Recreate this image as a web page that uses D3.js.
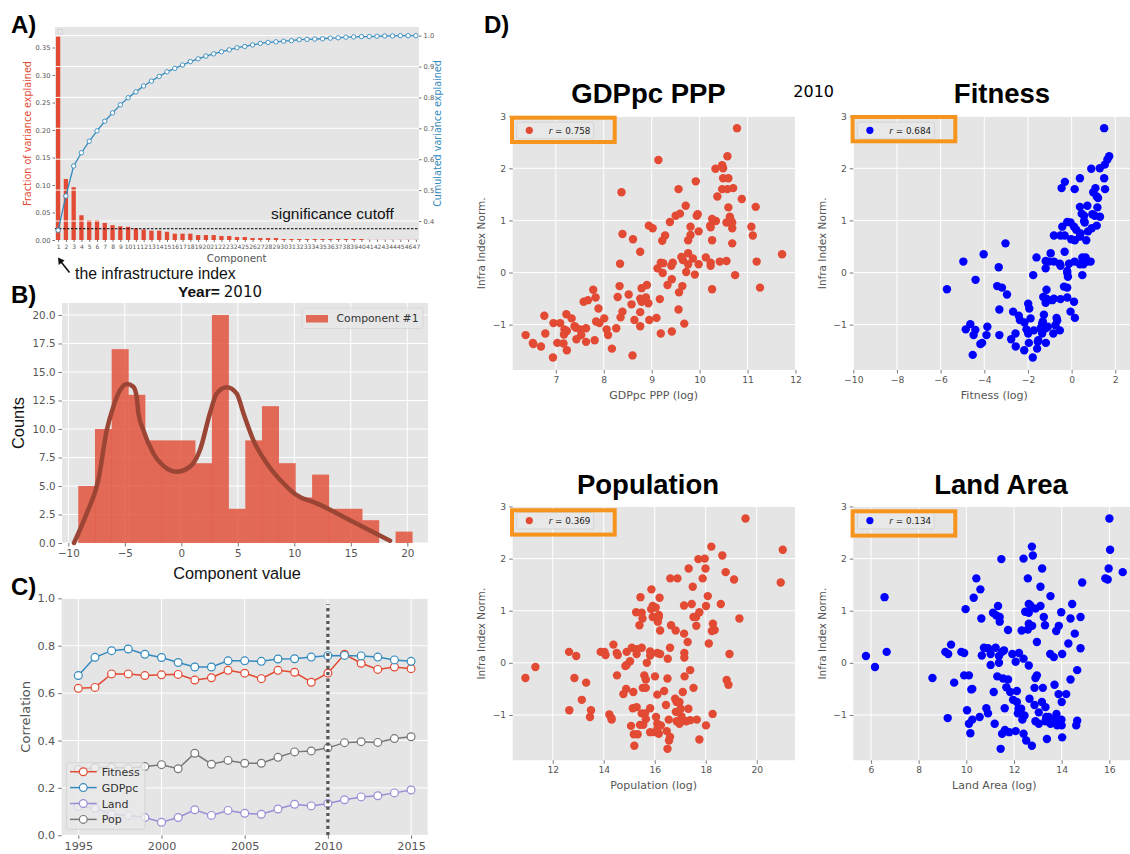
<!DOCTYPE html>
<html>
<head>
<meta charset="utf-8">
<script src="https://cdn.jsdelivr.net/npm/d3@7"></script>
<style>
body { margin: 0; background: #fff; }
svg { display: block; }
</style>
</head>
<body>
<svg id="fig" width="1130" height="854"></svg>
<script>
// ---- panel A: PCA variance ----
var components = d3.range(1, 48);
var varFrac = [0.370, 0.111, 0.096, 0.045, 0.036, 0.036, 0.031, 0.027, 0.025, 0.024,
               0.021, 0.019, 0.017, 0.017, 0.015, 0.0115, 0.0115, 0.0115, 0.009, 0.009,
               0.009, 0.0073, 0.0073, 0.0055, 0.0055, 0.0036, 0.0036, 0.0036, 0.0036, 0.0018,
               0.0018, 0.0018, 0.0018, 0.0018, 0.0018, 0.0018, 0.0018, 0.0018, 0.0018, 0.0018,
               0.0003, 0.0003, 0.0003, 0.0003, 0.0003, 0.0003, 0.0003];
var cumVar = [0.370, 0.481, 0.578, 0.621, 0.658, 0.692, 0.723, 0.750, 0.776, 0.799,
              0.818, 0.837, 0.853, 0.868, 0.883, 0.894, 0.905, 0.916, 0.925, 0.934,
              0.941, 0.948, 0.954, 0.961, 0.965, 0.970, 0.975, 0.978, 0.980, 0.982,
              0.984, 0.987, 0.988, 0.989, 0.990, 0.992, 0.993, 0.995, 0.996, 0.997,
              0.997, 0.998, 0.999, 0.999, 1.000, 1.000, 1.000];
var cutoff = 0.0205;
var fracTicks = [0, 0.05, 0.10, 0.15, 0.20, 0.25, 0.30, 0.35];
var cumTicks = [0.4, 0.5, 0.6, 0.7, 0.8, 0.9, 1.0];

// ---- panel B: histogram of component #1 ----
var histRange = [-9.12, 20.44];
var histCounts = [5, 10, 17, 13, 9, 9, 9, 7, 20, 3, 9, 12, 7, 4, 6, 3, 3, 2, 0, 1];
var kdeX = [-9.50, -8.37, -7.35, -6.60, -6.00, -5.42, -4.83, -4.25, -3.95, -3.80, -3.36, -2.48, -1.29, -0.41,
            0.77, 1.65, 2.54, 3.13, 4.02, 4.90, 5.49, 6.37, 7.56, 9.03, 10.20, 11.98, 14.93, 18.47];
var kdeY = [0, 2.6, 5.5, 9.9, 12.0, 13.4, 13.95, 13.7, 12.8, 11.4, 9.9, 7.87, 6.55, 6.25,
            6.7, 8.16, 11.4, 13.1, 13.65, 13.1, 11.4, 9.03, 7.0, 5.24, 4.2, 3.48, 2.0, 0.2];
var histXTicks = [-10, -5, 0, 5, 10, 15, 20];
var histYTicks = [0, 2.5, 5, 7.5, 10, 12.5, 15, 17.5, 20];

// ---- panel C: correlation over years ----
var years = d3.range(1995, 2016);
var fitnessCorr = [0.620, 0.624, 0.681, 0.681, 0.674, 0.677, 0.679, 0.655, 0.665, 0.696, 0.684,
                   0.661, 0.696, 0.688, 0.646, 0.684, 0.764, 0.726, 0.700, 0.710, 0.703];
var gdpCorr = [0.674, 0.751, 0.779, 0.786, 0.764, 0.750, 0.729, 0.710, 0.710, 0.736, 0.736,
               0.734, 0.744, 0.745, 0.752, 0.758, 0.759, 0.757, 0.752, 0.740, 0.734];
var landCorr = [0.121, 0.114, 0.089, 0.084, 0.075, 0.055, 0.075, 0.108, 0.084, 0.105, 0.093,
                0.089, 0.111, 0.131, 0.124, 0.134, 0.150, 0.162, 0.167, 0.179, 0.191];
var popCorr = [0.278, 0.285, 0.287, 0.283, 0.290, 0.298, 0.281, 0.346, 0.300, 0.316, 0.304,
               0.304, 0.329, 0.352, 0.356, 0.369, 0.391, 0.395, 0.392, 0.408, 0.416];
var corrNames = ["Fitness", "GDPpc", "Land", "Pop"];
var markYear = 2010;

// ---- panel D: scatter plots, 2010 ----
var gdpPts = [[10.78,2.77],[9.14,2.16],[10.58,2.23],[10.47,2.06],[10.33,1.99],[10.49,2.00],[8.37,1.54],[10.49,1.81],[10.60,1.81],[9.92,1.75],
  [9.56,1.60],[10.47,1.60],[10.58,1.60],[10.70,1.62],[10.88,1.41],[10.37,1.46],[9.71,1.28],[10.60,1.25],[11.17,1.26],[9.50,1.09],
  [9.59,1.13],[9.94,1.09],[9.96,1.12],[10.26,1.03],[10.34,0.99],[10.63,1.07],[10.64,1.03],[9.38,0.97],[10.56,0.96],[10.68,0.96],
  [10.22,0.90],[10.23,0.87],[8.94,0.90],[9.02,0.85],[9.81,0.88],[11.08,0.88],[10.68,0.85],[8.39,0.74],[9.28,0.71],[9.81,0.72],
  [11.11,0.71],[9.98,0.79],[8.61,0.64],[9.22,0.61],[9.76,0.62],[10.26,0.62],[10.68,0.56],[8.76,0.40],[9.76,0.37],[9.62,0.30],
  [10.13,0.29],[9.65,0.24],[9.86,0.27],[10.42,0.21],[10.56,0.22],[11.19,0.21],[11.72,0.35],[8.34,0.17],[9.19,0.19],[9.24,0.18],
  [9.44,0.19],[9.76,0.16],[10.23,0.19],[10.23,0.13],[9.98,0.16],[9.41,0.13],[9.12,0.08],[9.23,-0.01],[9.72,0.01],[9.90,-0.04],
  [10.74,-0.05],[8.33,-0.26],[9.42,-0.13],[9.33,-0.24],[8.90,-0.24],[8.52,-0.42],[9.64,-0.26],[11.26,-0.29],[10.26,-0.32],[7.78,-0.33],
  [8.79,-0.30],[9.57,-0.38],[8.29,-0.47],[7.83,-0.48],[7.67,-0.53],[7.58,-0.56],[8.76,-0.50],[8.88,-0.48],[8.79,-0.56],[9.17,-0.51],
  [8.58,-0.61],[8.93,-0.59],[7.89,-0.69],[9.56,-0.71],[8.39,-0.75],[8.76,-0.76],[6.76,-0.83],[7.22,-0.80],[7.33,-0.88],[8.01,-0.88],
  [8.35,-0.86],[9.10,-0.87],[8.64,-0.91],[8.95,-0.91],[6.95,-0.97],[7.09,-0.97],[7.84,-0.94],[7.91,-0.97],[9.68,-0.98],[7.39,-1.03],
  [7.42,-1.06],[7.63,-1.07],[7.51,-1.09],[7.18,-1.09],[7.23,-1.12],[8.06,-1.09],[8.26,-1.07],[8.76,-1.03],[7.19,-1.15],[7.17,-1.19],
  [6.78,-1.17],[7.53,-1.20],[8.09,-1.20],[9.19,-1.17],[9.42,-1.13],[6.37,-1.20],[7.43,-1.28],[7.63,-1.33],[7.81,-1.30],[6.52,-1.35],
  [6.53,-1.37],[7.03,-1.35],[7.16,-1.36],[6.69,-1.42],[7.23,-1.49],[8.17,-1.46],[6.94,-1.63],[8.60,-1.59]];

var fitPts = [[1.49,2.77],[1.72,2.23],[1.64,2.17],[1.52,2.07],[1.29,2.00],[0.90,1.99],[-0.31,1.74],[0.38,1.81],[1.49,1.81],[-0.46,1.62],
  [0.14,1.60],[1.53,1.60],[1.09,1.62],[0.99,1.54],[1.15,1.46],[1.21,1.43],[0.72,1.28],[0.38,1.26],[1.18,1.25],[0.46,1.13],
  [0.95,1.12],[1.06,1.09],[1.30,1.07],[0.57,1.09],[0.57,0.99],[0.60,0.96],[-0.20,0.97],[-0.05,0.96],[-0.43,0.88],[0.11,0.88],
  [0.21,0.82],[1.15,0.90],[0.92,0.85],[0.75,0.79],[0.41,0.75],[-0.81,0.71],[-0.51,0.71],[-0.32,0.71],[-0.02,0.64],[0.15,0.62],
  [0.67,0.62],[0.38,0.69],[-3.03,0.56],[-0.32,0.40],[-0.96,0.37],[-4.03,0.35],[-4.96,0.21],[-1.61,0.29],[-1.19,0.22],[-1.04,0.21],
  [-0.81,0.21],[-0.54,0.17],[-0.51,0.13],[-0.12,0.17],[0.14,0.21],[0.38,0.16],[0.49,0.29],[0.64,0.29],[0.72,0.21],[0.87,0.21],
  [0.54,0.16],[-1.19,0.08],[-3.34,0.10],[-0.20,0.03],[-0.20,-0.01],[-0.17,-0.08],[0.49,-0.05],[-1.76,-0.05],[-4.40,-0.14],[-5.71,-0.32],
  [-3.41,-0.26],[-3.19,-0.29],[-2.96,-0.42],[-0.20,-0.29],[-0.35,-0.27],[-1.15,-0.33],[-1.30,-0.47],[-1.15,-0.50],[-0.81,-0.50],[-0.51,-0.51],
  [-0.89,-0.53],[-0.20,-0.48],[0.11,-0.56],[-1.19,-0.58],[-1.99,-0.60],[-1.94,-0.69],[-3.31,-0.71],[-2.68,-0.75],[-0.05,-0.75],[-1.27,-0.81],
  [-2.42,-0.83],[0.15,-0.87],[-2.37,-0.91],[-1.88,-0.88],[-0.69,-0.87],[-0.66,-0.92],[-2.16,-0.96],[-1.32,-0.94],[-0.74,-1.01],[-4.64,-0.99],
  [-3.86,-1.04],[-1.35,-0.98],[-4.85,-1.09],[-4.41,-1.10],[-2.07,-1.09],[-1.73,-1.11],[-1.42,-1.07],[-1.19,-1.07],[-1.09,-1.04],[-0.54,-1.11],
  [-0.84,-1.17],[-1.99,-1.17],[-4.49,-1.20],[-3.90,-1.20],[-3.31,-1.20],[-2.57,-1.17],[-1.35,-1.17],[-1.53,-1.30],[-1.55,-1.33],[-1.96,-1.35],
  [-1.18,-1.35],[-2.77,-1.28],[-4.10,-1.35],[-4.18,-1.37],[-2.56,-1.42],[-1.58,-1.46],[-2.17,-1.49],[-4.53,-1.58],[-1.78,-1.63]];

var popPts = [[19.56,2.77],[21.02,2.17],[20.94,1.54],[18.22,2.23],[18.65,2.06],[17.71,1.99],[17.96,2.00],[17.33,1.81],[17.99,1.81],[18.78,1.74],
  [16.61,1.62],[16.89,1.62],[17.88,1.62],[19.11,1.60],[17.49,1.46],[15.87,1.41],[15.44,1.26],[16.19,1.25],[18.08,1.28],[17.15,1.10],
  [17.45,1.13],[18.01,1.09],[18.59,1.13],[15.27,0.97],[15.49,0.96],[15.92,1.09],[16.04,1.06],[15.86,1.03],[16.16,0.92],[16.16,0.88],
  [15.92,0.88],[16.12,0.79],[15.40,0.72],[15.52,0.85],[17.52,0.88],[17.62,0.88],[17.75,0.97],[17.63,0.71],[16.64,0.72],[16.82,0.62],
  [16.21,0.62],[18.24,0.61],[18.28,0.75],[18.35,0.63],[19.32,0.85],[17.15,0.56],[17.29,0.40],[18.12,0.37],[14.38,0.35],[12.64,0.21],
  [12.92,0.13],[13.88,0.21],[14.03,0.21],[14.07,0.15],[14.51,0.19],[14.55,0.15],[14.90,0.21],[15.10,0.29],[15.29,0.26],[15.29,0.17],
  [15.49,0.29],[15.82,0.22],[15.82,0.14],[16.10,0.19],[16.21,0.17],[16.60,0.29],[16.51,0.08],[17.16,0.19],[17.16,0.10],[18.93,0.17],
  [15.03,0.03],[14.90,-0.04],[14.85,-0.06],[15.69,0.00],[10.93,-0.29],[11.32,-0.08],[12.85,-0.29],[13.31,-0.38],[14.52,-0.24],[15.59,-0.24],
  [15.65,-0.32],[16.01,-0.26],[16.50,-0.30],[17.17,-0.26],[17.39,-0.14],[18.82,-0.33],[18.89,-0.42],[17.52,-0.48],[15.53,-0.48],[15.65,-0.48],
  [14.88,-0.50],[14.77,-0.60],[15.16,-0.56],[16.37,-0.54],[16.10,-0.61],[17.10,-0.56],[13.14,-0.71],[16.80,-0.69],[16.86,-0.75],[16.97,-0.75],
  [16.44,-0.81],[12.65,-0.91],[13.50,-0.91],[13.46,-1.04],[14.22,-0.99],[14.30,-1.06],[14.31,-1.09],[15.14,-0.87],[15.29,-0.85],[15.82,-0.87],
  [15.49,-0.97],[15.62,-0.97],[17.02,-0.88],[17.32,-0.88],[16.83,-0.94],[18.27,-0.98],[17.05,-1.03],[16.05,-1.04],[15.65,-1.08],[16.55,-1.09],
  [16.86,-1.12],[17.23,-1.12],[17.39,-1.10],[17.65,-1.09],[15.42,-1.19],[15.55,-1.19],[15.07,-1.21],[16.10,-1.17],[16.24,-1.20],[16.97,-1.17],
  [18.01,-1.20],[15.82,-1.33],[16.01,-1.33],[16.16,-1.36],[15.18,-1.37],[15.33,-1.37],[16.47,-1.31],[16.60,-1.42],[16.56,-1.49],[17.75,-1.47],
  [15.20,-1.59],[16.50,-1.65],[16.10,-1.27]];

var landPts = [[16.00,2.77],[16.03,2.17],[15.97,1.81],[15.83,1.62],[15.93,1.60],[16.56,1.74],[14.86,1.54],[12.75,2.23],[12.79,2.06],[12.40,2.00],
  [11.47,1.99],[13.18,1.81],[10.42,1.62],[12.58,1.62],[10.59,1.41],[13.11,1.46],[6.57,1.26],[10.31,1.25],[13.53,1.28],[11.33,1.09],
  [12.62,1.13],[12.69,1.10],[12.90,1.04],[13.11,1.09],[14.44,1.13],[9.97,1.03],[11.12,0.96],[11.26,0.91],[11.40,0.88],[12.47,0.98],
  [12.62,0.96],[13.98,0.97],[10.63,0.85],[11.40,0.79],[13.25,0.88],[14.37,0.85],[14.79,0.88],[12.62,0.75],[12.76,0.71],[13.30,0.72],
  [13.88,0.71],[12.58,0.64],[11.75,0.63],[12.32,0.62],[13.77,0.61],[14.55,0.56],[12.96,0.40],[14.28,0.37],[9.36,0.35],[5.79,0.13],
  [6.66,0.21],[6.17,-0.08],[9.12,0.21],[9.24,0.17],[9.79,0.21],[9.91,0.19],[10.74,0.29],[10.65,0.14],[10.91,0.28],[11.02,0.17],
  [11.23,0.29],[11.37,0.13],[11.50,0.21],[11.58,0.24],[11.93,0.17],[12.21,0.19],[12.07,0.02],[12.40,0.08],[14.02,0.17],[13.52,0.17],
  [13.67,0.11],[14.79,0.28],[11.02,-0.04],[11.37,0.00],[12.62,-0.05],[8.58,-0.29],[9.49,-0.38],[9.91,-0.24],[10.11,-0.24],[10.21,-0.51],
  [10.25,-0.50],[11.30,-0.26],[11.54,-0.30],[11.75,-0.32],[12.90,-0.29],[12.96,-0.24],[12.86,-0.48],[13.21,-0.48],[14.37,-0.32],[14.65,-0.14],
  [11.15,-0.56],[11.68,-0.47],[11.84,-0.56],[12.12,-0.54],[12.65,-0.69],[13.70,-0.42],[13.87,-0.60],[14.19,-0.60],[11.96,-0.71],[12.12,-0.75],
  [13.17,-0.75],[13.32,-0.85],[14.00,-0.75],[11.61,-0.87],[12.19,-0.88],[12.30,-0.88],[10.84,-0.87],[10.91,-0.97],[10.03,-0.91],[12.16,-0.97],
  [12.44,-1.01],[12.86,-0.81],[13.04,-0.95],[13.78,-0.98],[13.35,-1.04],[13.46,-1.04],[13.70,-1.09],[13.99,-1.09],[14.65,-1.11],[10.56,-1.04],
  [9.22,-1.06],[10.25,-1.09],[10.11,-1.17],[11.19,-1.17],[12.35,-1.09],[12.90,-1.12],[13.04,-1.17],[13.32,-1.12],[13.53,-1.17],[13.81,-1.20],
  [14.00,-1.20],[14.61,-1.20],[10.17,-1.35],[11.50,-1.36],[11.62,-1.29],[11.80,-1.33],[12.07,-1.31],[12.40,-1.36],[14.02,-1.43],[13.38,-1.46],
  [12.51,-1.49],[12.75,-1.59],[11.44,-1.65]];

var rValues = {gdp: "0.758", fit: "0.684", pop: "0.369", land: "0.134"};

// ---- drawing ----
var BG = "#E5E5E5", RED = "#E24A33", BLUE = "#348ABD", PURPLE = "#988ED5", GREY = "#777777";
var ORANGE = "#F7941D";
var DV = "DejaVu Sans, sans-serif";
var LS = "Liberation Sans, Arial, sans-serif";
var svg = d3.select("#fig");

function panelBg(x0, y0, x1, y1) {
    svg.append("rect").attr("x", x0).attr("y", y0)
        .attr("width", x1 - x0).attr("height", y1 - y0).attr("fill", BG);
}

function gridH(vals, ys, x0, x1) {
    svg.append("g").selectAll("line").data(vals).enter().append("line")
        .attr("x1", x0).attr("x2", x1)
        .attr("y1", function(d) { return ys(d); }).attr("y2", function(d) { return ys(d); })
        .attr("stroke", "#fff").attr("stroke-width", 1);
}

function gridV(vals, xs, y0, y1) {
    svg.append("g").selectAll("line").data(vals).enter().append("line")
        .attr("y1", y0).attr("y2", y1)
        .attr("x1", function(d) { return xs(d); }).attr("x2", function(d) { return xs(d); })
        .attr("stroke", "#fff").attr("stroke-width", 1);
}

function axis(gen, tx, ty, fs) {
    var g = svg.append("g").attr("transform", "translate(" + tx + "," + ty + ")").call(gen);
    g.select(".domain").remove();
    g.selectAll(".tick line").attr("stroke", "#555").attr("stroke-width", 0.8);
    g.selectAll(".tick text").attr("fill", "#555").attr("font-family", DV).attr("font-size", fs);
    return g;
}

function text(x, y, str, size, family, fill, anchor, weight) {
    return svg.append("text").attr("x", x).attr("y", y).text(str)
        .attr("font-size", size).attr("font-family", family)
        .attr("fill", fill || "#000").attr("text-anchor", anchor || "start")
        .attr("font-weight", weight || "normal");
}

function vtext(x, y, str, size, family, fill) {
    return svg.append("text").attr("transform", "translate(" + x + "," + y + ") rotate(-90)")
        .attr("text-anchor", "middle").attr("dy", "0.35em").text(str)
        .attr("font-size", size).attr("font-family", family).attr("fill", fill);
}

// ===== A =====
(function() {
    var x0 = 55, x1 = 419, y0 = 27, y1 = 240;
    var ax = d3.scaleLinear().domain([0.6, 47.4]).range([x0, x1]);
    var ayL = d3.scaleLinear().domain([0, 0.3873]).range([y1, y0]);
    var ayR = d3.scaleLinear().domain([0.3385, 1.028]).range([y1, y0]);
    panelBg(x0, y0, x1, y1);

    svg.append("g").selectAll("rect").data(varFrac).enter().append("rect")
        .attr("x", function(d, i) { return ax(components[i]) - 2.15; })
        .attr("width", 4.3)
        .attr("y", function(d) { return ayL(d); })
        .attr("height", function(d) { return y1 - ayL(d); })
        .attr("fill", RED);

    gridH(cumTicks, ayR, x0, x1);

    svg.append("line").attr("x1", x0).attr("x2", x1)
        .attr("y1", ayL(cutoff)).attr("y2", ayL(cutoff))
        .attr("stroke", "#000").attr("stroke-width", 1).attr("stroke-dasharray", "2.5,1.5");

    var line = d3.line()
        .x(function(d, i) { return ax(components[i]); })
        .y(function(d) { return ayR(d); });
    svg.append("path").datum(cumVar).attr("d", line)
        .attr("fill", "none").attr("stroke", BLUE).attr("stroke-width", 1.3);
    svg.append("g").selectAll("circle").data(cumVar).enter().append("circle")
        .attr("cx", function(d, i) { return ax(components[i]); })
        .attr("cy", function(d) { return ayR(d); })
        .attr("r", 2.2).attr("fill", "#fff").attr("stroke", BLUE).attr("stroke-width", 0.9);

    // empty legend box
    svg.append("rect").attr("x", 58).attr("y", 29.5).attr("width", 4.5).attr("height", 4.5)
        .attr("fill", "#e8e8e8").attr("stroke", "#c8c8c8").attr("stroke-width", 0.6);

    axis(d3.axisLeft(ayL).tickValues(fracTicks).tickFormat(d3.format(".2f")).tickSize(2.5).tickPadding(2), x0, 0, 6.7);
    axis(d3.axisRight(ayR).tickValues(cumTicks).tickFormat(d3.format(".1f")).tickSize(2.5).tickPadding(2), x1, 0, 6.7);
    axis(d3.axisBottom(ax).tickValues(components).tickFormat(d3.format("d")).tickSize(2).tickPadding(3), 0, y1, 6);

    text(236.7, 261.5, "Component", 10.3, DV, "#555", "middle");
    vtext(27.7, 133.5, "Fraction of variance explained", 9.6, DV, RED);
    vtext(437.5, 133.5, "Cumulated variance explained", 9.6, DV, BLUE);

    text(271, 218.5, "significance cutoff", 15.5, LS, "#111");
    text(75, 278.5, "the infrastructure index", 15.8, LS, "#111");

    // arrow
    svg.append("line").attr("x1", 69.5).attr("y1", 272.5).attr("x2", 60).attr("y2", 260.5)
        .attr("stroke", "#111").attr("stroke-width", 1.6);
    svg.append("path").attr("d", "M58,257.5 L58.7,265 L64.6,260.4 Z").attr("fill", "#111");

    text(11, 33, "A)", 24, LS, "#000", "start", "bold");
})();

// ===== B =====
(function() {
    var x0 = 62, x1 = 428, y0 = 303, y1 = 543;
    var bx = d3.scaleLinear().domain([-10.56, 21.83]).range([x0, x1]);
    var by = d3.scaleLinear().domain([0, 21.05]).range([y1, y0]);
    panelBg(x0, y0, x1, y1);
    gridH(histYTicks, by, x0, x1);
    gridV(histXTicks, bx, y0, y1);

    var bw = (histRange[1] - histRange[0]) / histCounts.length;
    svg.append("g").selectAll("rect").data(histCounts).enter().append("rect")
        .attr("x", function(d, i) { return bx(histRange[0] + i * bw); })
        .attr("width", bx(histRange[0] + bw) - bx(histRange[0]) + 0.3)
        .attr("y", function(d) { return by(d); })
        .attr("height", function(d) { return y1 - by(d); })
        .attr("fill", RED).attr("fill-opacity", 0.8);

    var kde = d3.line()
        .x(function(d, i) { return bx(kdeX[i]); })
        .y(function(d) { return by(d); })
        .curve(d3.curveMonotoneX);
    svg.append("path").datum(kdeY).attr("d", kde)
        .attr("fill", "none").attr("stroke", "#9B4535").attr("stroke-width", 4.5)
        .attr("stroke-linecap", "round").attr("stroke-linejoin", "round");

    axis(d3.axisLeft(by).tickValues(histYTicks).tickFormat(d3.format(".1f")).tickSize(3.5).tickPadding(3), x0, 0, 10.3);
    axis(d3.axisBottom(bx).tickValues(histXTicks).tickFormat(d3.format("d")).tickSize(3.5).tickPadding(3), 0, y1, 10.3);

    // legend
    svg.append("rect").attr("x", 302).attr("y", 308).attr("width", 121).attr("height", 20.5).attr("rx", 2)
        .attr("fill", "#e8e8e8").attr("fill-opacity", 0.85).attr("stroke", "#d4d4d4").attr("stroke-width", 0.8);
    svg.append("rect").attr("x", 306).attr("y", 315).attr("width", 22).attr("height", 7.5)
        .attr("fill", RED).attr("fill-opacity", 0.8);
    text(336.5, 322.3, "Component #1", 10.8, DV, "#333");

    vtext(18, 423, "Counts", 16.4, LS, "#111");
    text(237, 579, "Component value", 16.3, LS, "#111", "middle");

    var t = svg.append("text").attr("x", 178).attr("y", 297).attr("font-family", LS).attr("font-size", 15.5).attr("fill", "#111");
    t.append("tspan").attr("font-weight", "bold").text("Year=");
    t.append("tspan").attr("font-family", DV).attr("font-size", 15).attr("dx", 4).text("2010");

    text(11, 303, "B)", 24, LS, "#000", "start", "bold");
})();

// ===== C =====
(function() {
    var x0 = 61.7, x1 = 427.7, y0 = 598.3, y1 = 835.3;
    var cx = d3.scaleLinear().domain([1994, 2016]).range([x0, x1]);
    var cy = d3.scaleLinear().domain([0, 1]).range([y1, y0]);
    var yTicks = [0, 0.2, 0.4, 0.6, 0.8, 1.0];
    var xTicks = [1995, 2000, 2005, 2010, 2015];
    panelBg(x0, y0, x1, y1);
    gridH(yTicks, cy, x0, x1);
    gridV(xTicks, cx, y0, y1);

    var series = [fitnessCorr, gdpCorr, landCorr, popCorr];
    var colors = [RED, BLUE, PURPLE, GREY];
    var line = d3.line()
        .x(function(d, i) { return cx(years[i]); })
        .y(function(d) { return cy(d); });
    series.forEach(function(s, k) {
        svg.append("path").datum(s).attr("d", line)
            .attr("fill", "none").attr("stroke", colors[k]).attr("stroke-width", 1.5);
        svg.append("g").selectAll("circle").data(s).enter().append("circle")
            .attr("cx", function(d, i) { return cx(years[i]); })
            .attr("cy", function(d) { return cy(d); })
            .attr("r", 3.9).attr("fill", "#fff").attr("stroke", colors[k]).attr("stroke-width", 1.2);
    });

    svg.append("line").attr("x1", cx(markYear)).attr("x2", cx(markYear))
        .attr("y1", cy(0)).attr("y2", cy(0.975))
        .attr("stroke", "#555").attr("stroke-width", 3.2).attr("stroke-dasharray", "3.2,3.2");

    axis(d3.axisLeft(cy).tickValues(yTicks).tickFormat(d3.format(".1f")).tickSize(3.5).tickPadding(3), x0, 0, 11.2);
    axis(d3.axisBottom(cx).tickValues(xTicks).tickFormat(d3.format("d")).tickSize(3.5).tickPadding(3.5), 0, y1, 11.2);
    vtext(25, 716.8, "Correlation", 13, DV, "#555");

    // legend
    svg.append("rect").attr("x", 66.7).attr("y", 762.7).attr("width", 78.3).attr("height", 66.6).attr("rx", 2)
        .attr("fill", "#e8e8e8").attr("fill-opacity", 0.8).attr("stroke", "#cfcfcf").attr("stroke-width", 0.8);
    corrNames.forEach(function(n, k) {
        var yy = 771.7 + k * 15.9;
        svg.append("line").attr("x1", 70).attr("x2", 96.7).attr("y1", yy).attr("y2", yy)
            .attr("stroke", colors[k]).attr("stroke-width", 1.5);
        svg.append("circle").attr("cx", 83.3).attr("cy", yy).attr("r", 3.9)
            .attr("fill", "#fff").attr("stroke", colors[k]).attr("stroke-width", 1.2);
        text(101.7, yy + 4, n, 11, DV, "#333");
    });

    text(11, 595, "C)", 24, LS, "#000", "start", "bold");
})();

// ===== D =====
function scatterPanel(o) {
    var xs = d3.scaleLinear().domain(o.xd).range([o.x0, o.x0 + 282.3]);
    var ys = d3.scaleLinear().domain([-1.87, 2.99]).range([o.y0 + 253.3, o.y0]);
    var yTicks = [-1, 0, 1, 2, 3];
    panelBg(o.x0, o.y0, o.x0 + 282.3, o.y0 + 253.3);
    gridH(yTicks, ys, o.x0, o.x0 + 282.3);
    gridV(o.xt, xs, o.y0, o.y0 + 253.3);

    svg.append("g").selectAll("circle").data(o.pts).enter().append("circle")
        .attr("cx", function(d) { return xs(d[0]); })
        .attr("cy", function(d) { return ys(d[1]); })
        .attr("r", 4.2).attr("fill", o.color);

    axis(d3.axisLeft(ys).tickValues(yTicks).tickFormat(d3.format("d")).tickSize(3.5).tickPadding(3), o.x0, 0, 9.2);
    axis(d3.axisBottom(xs).tickValues(o.xt).tickFormat(d3.format("d")).tickSize(3.5).tickPadding(3), 0, o.y0 + 253.3, 9.2);

    vtext(o.x0 - 31, o.y0 + 126.6, "Infra Index Norm.", 10.5, DV, "#555");
    text(o.x0 + 141, o.y0 + 282, o.xlabel, 11, DV, "#555", "middle");
    text(o.tx, o.y0 - 13.5, o.title, 27.5, LS, "#000", "middle", "bold");

    // legend
    svg.append("rect").attr("x", o.x0 + 4).attr("y", o.y0 + 5.5).attr("width", 77).attr("height", 16.5).attr("rx", 2)
        .attr("fill", "#e8e8e8").attr("stroke", "#cfcfcf").attr("stroke-width", 0.8);
    svg.append("circle").attr("cx", o.x0 + 16.6).attr("cy", o.y0 + 13.6).attr("r", 3.6).attr("fill", o.color);
    var t = svg.append("text").attr("x", o.x0 + 36).attr("y", o.y0 + 16.8)
        .attr("font-family", DV).attr("font-size", 8.8).attr("fill", "#222");
    t.append("tspan").attr("font-style", "italic").text("r");
    t.append("tspan").text(" = " + o.r);
    svg.append("rect").attr("x", o.x0 - 0.7).attr("y", o.oy).attr("width", 102.7).attr("height", 24.3)
        .attr("fill", "none").attr("stroke", ORANGE).attr("stroke-width", 4);
}

scatterPanel({x0: 512.7, y0: 116.7, oy: 117.7, tx: 648.5, xd: [6.1, 11.99], xt: [7, 8, 9, 10, 11, 12],
              pts: gdpPts, color: RED, title: "GDPpc PPP", xlabel: "GDPpc PPP (log)", r: rValues.gdp});
scatterPanel({x0: 853.3, y0: 116.7, oy: 117.0, tx: 1002, xd: [-10, 2.93], xt: [-10, -8, -6, -4, -2, 0, 2],
              pts: fitPts, color: "#0000FF", title: "Fitness", xlabel: "Fitness (log)", r: rValues.fit});
scatterPanel({x0: 512.7, y0: 507.0, oy: 510.3, tx: 648, xd: [10.43, 21.5], xt: [12, 14, 16, 18, 20],
              pts: popPts, color: RED, title: "Population", xlabel: "Population (log)", r: rValues.pop});
scatterPanel({x0: 853.3, y0: 507.0, oy: 511.3, tx: 1001, xd: [5.26, 17.1], xt: [6, 8, 10, 12, 14, 16],
              pts: landPts, color: "#0000FF", title: "Land Area", xlabel: "Land Area (log)", r: rValues.land});

text(793.3, 96.5, "2010", 16, DV, "#000");
text(484, 33, "D)", 24, LS, "#000", "start", "bold");
</script>
</body>
</html>
